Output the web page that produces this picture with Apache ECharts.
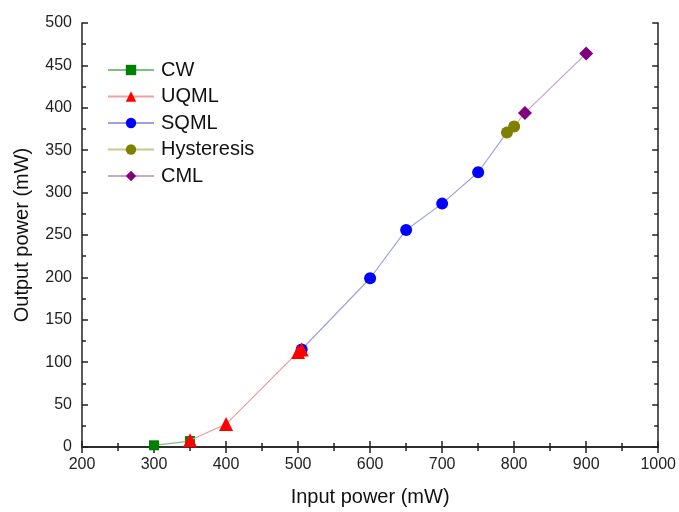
<!DOCTYPE html>
<html><head><meta charset="utf-8">
<script src="https://cdn.jsdelivr.net/npm/echarts@6/dist/echarts.min.js"></script>
<style>html,body{margin:0;padding:0;background:#fff}#c{width:679px;height:512px}</style>
</head><body><div id="c"></div>
<script>
const seriesNames = ['CW', 'UQML', 'SQML', 'Hysteresis', 'CML'];
const cwData = [[300, 2], [350, 7]];
const uqmlData = [[350, 8], [400, 27], [500, 112], [505, 115]];
const sqmlData = [[505, 115], [600, 199], [650, 256], [700, 287], [750, 324]];
const hystData = [[790, 371], [800, 378]];
const cmlData = [[815, 394], [900, 464]];
const xTicks = [200, 300, 400, 500, 600, 700, 800, 900, 1000];
const yTicks = [0, 50, 100, 150, 200, 250, 300, 350, 400, 450, 500];

const allData = [cwData, uqmlData, sqmlData, hystData, cmlData];
const markerColors = ['#008000', '#ff0000', '#0000ff', '#808000', '#800080'];
const lineColors = ['#7fbf7f', '#f0a0a0', '#a0a0e0', '#c8c890', '#c8a8c8'];
const symbols = ['rect', 'triangle', 'circle', 'circle', 'diamond'];
const symbolSizes = [10, 14, 12, 12, 14];
const zOrder = [2, 4, 3, 5, 6];

const series = allData.map((d, i) => {
  const pts = d.map(p => ({value: p}));
  if (i < allData.length - 1) {
    pts.push({value: allData[i + 1][0], symbol: 'none'});
  }
  return {
    name: seriesNames[i],
    type: 'line',
    data: pts,
    symbol: symbols[i],
    symbolSize: symbolSizes[i],
    itemStyle: {color: markerColors[i]},
    lineStyle: {color: lineColors[i], width: 1.2},
    z: zOrder[i],
    animation: false
  };
});

const axisTxt = {fontFamily: 'Arial, Liberation Sans', fontSize: 16, color: '#222'};
const chart = echarts.init(document.getElementById('c'));
chart.setOption({
  animation: false,
  grid: {left: 82, right: 18, top: 23, bottom: 63},
  legend: {
    orient: 'vertical', left: 102, top: 55, itemGap: 6.5,
    itemWidth: 46, itemHeight: 13,
    textStyle: {fontFamily: 'Arial, Liberation Sans', fontSize: 20, color: '#111', padding: [0, 0, 0, 2]},
    data: seriesNames
  },
  xAxis: [{
    type: 'value', min: 200, max: 1000, interval: 100,
    name: 'Input power (mW)', nameLocation: 'middle', nameGap: 40,
    nameTextStyle: {fontFamily: 'Arial, Liberation Sans', fontSize: 20, color: '#111'},
    axisLine: {lineStyle: {color: '#222', width: 1.5}},
    axisTick: {inside: true, length: 6, lineStyle: {color: '#222', width: 1.5}},
    minorTick: {show: true, splitNumber: 2, length: 4, lineStyle: {color: '#222', width: 1.5}},
    splitLine: {show: false},
    axisLabel: Object.assign({margin: 10, formatter: v => xTicks.includes(v) ? String(v) : ''}, axisTxt)
  }, {
    type: 'value', position: 'top', min: 200, max: 1000, interval: 100,
    axisLine: {show: true, lineStyle: {color: '#222', width: 1.5}},
    axisTick: {inside: true, length: 6, lineStyle: {color: '#222', width: 1.5}},
    minorTick: {show: true, splitNumber: 2, length: 4, lineStyle: {color: '#222', width: 1.5}},
    axisLabel: {show: false}, splitLine: {show: false}
  }],
  yAxis: [{
    type: 'value', min: 0, max: 500, interval: 50,
    name: 'Output power (mW)', nameLocation: 'middle', nameGap: 50,
    nameTextStyle: {fontFamily: 'Arial, Liberation Sans', fontSize: 20, color: '#111'},
    axisLine: {show: true, lineStyle: {color: '#222', width: 1.5}},
    axisTick: {inside: true, length: 6, lineStyle: {color: '#222', width: 1.5}},
    minorTick: {show: true, splitNumber: 2, length: 4, lineStyle: {color: '#222', width: 1.5}},
    splitLine: {show: false},
    axisLabel: Object.assign({margin: 10, formatter: v => yTicks.includes(v) ? String(v) : ''}, axisTxt)
  }, {
    type: 'value', position: 'right', min: 0, max: 500, interval: 50,
    axisLine: {show: true, lineStyle: {color: '#222', width: 1.5}},
    axisTick: {inside: true, length: 6, lineStyle: {color: '#222', width: 1.5}},
    minorTick: {show: true, splitNumber: 2, length: 4, lineStyle: {color: '#222', width: 1.5}},
    axisLabel: {show: false}, splitLine: {show: false}
  }],
  series: series
});
</script>
</body></html>
